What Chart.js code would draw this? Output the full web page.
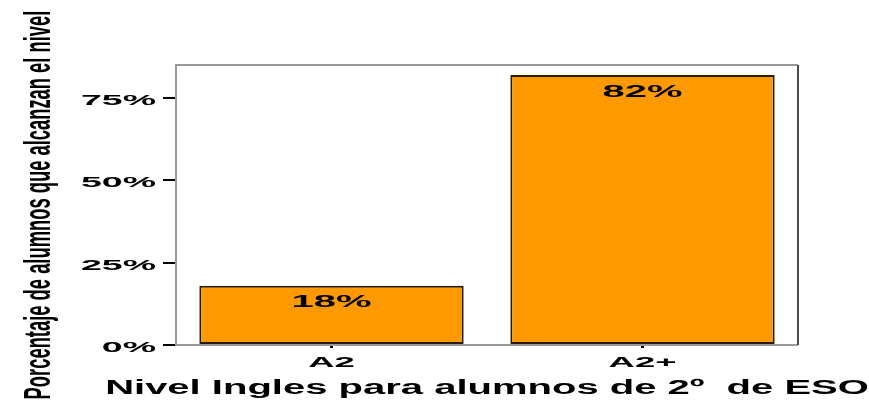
<!DOCTYPE html>
<html>
<head>
<meta charset="utf-8">
<script src="https://cdn.jsdelivr.net/npm/chart.js@4"></script>
<style>
  html, body { margin: 0; padding: 0; background: #fff; }
  canvas { display: block; }
</style>
</head>
<body>
<canvas id="myChart" width="869" height="401"></canvas>
<script>
// datos
const categories = ["A2", "A2+"];
const percentages = [18, 82];
const yTicks = [0, 25, 50, 75];
const xTitle = "Nivel Ingles para alumnos de 2º  de ESO";
const yTitle = "Porcentaje de alumnos que alcanzan el nivel";

// el original tiene letras estiradas (o comprimidas) en horizontal, por tamaño de fuente
const stretch = { 14: 2.6, 15: 2.5, 17: 2.35, 20: 2.0, 36: 0.51 };

const canvas = document.getElementById("myChart");
const ctx = canvas.getContext("2d");

function stretchFor(c) {
    const m = /(\d+(?:\.\d+)?)px/.exec(c.font);
    return m ? stretch[Math.round(+m[1])] : undefined;
}
const origFill = ctx.fillText;
const origMeasure = ctx.measureText;
ctx.fillText = function (text, x, y) {
    const s = stretchFor(this);
    if (!s) return origFill.call(this, text, x, y);
    this.save();
    this.translate(x, y);
    this.scale(s, 1);
    origFill.call(this, text, 0, 0);
    this.restore();
};
ctx.measureText = function (text) {
    const m = origMeasure.call(this, text);
    const s = stretchFor(this);
    return s ? { width: m.width * s } : m;
};

// marco del area del grafico
const framePlugin = {
    id: "frame",
    beforeDatasetsDraw(chart) {
        const c = chart.ctx, a = chart.chartArea;
        c.save();
        c.lineWidth = 2;
        c.strokeStyle = "#9a9a9a";
        c.beginPath();
        c.moveTo(a.right, a.top);
        c.lineTo(a.left, a.top);
        c.lineTo(a.left, a.bottom);
        c.lineTo(a.right, a.bottom);
        c.stroke();
        c.strokeStyle = "#4a4a4a";
        c.beginPath();
        c.moveTo(a.right, a.top);
        c.lineTo(a.right, a.bottom);
        c.stroke();
        c.restore();
    }
};

// etiquetas dentro de las barras
const labelPlugin = {
    id: "barLabels",
    afterDatasetsDraw(chart) {
        const c = chart.ctx;
        c.save();
        c.font = "bold 17px 'Liberation Sans'";
        c.fillStyle = "#000";
        c.textAlign = "center";
        c.textBaseline = "middle";
        chart.getDatasetMeta(0).data.forEach((bar, i) => {
            c.fillText(percentages[i] + "%", bar.x, bar.y + 17);
        });
        c.restore();
    }
};

const chart = new Chart(ctx, {
    type: "bar",
    data: {
        labels: categories,
        datasets: [{
            data: percentages,
            backgroundColor: "#ff9900",
            borderColor: "#2a1c00",
            borderWidth: 2,
            borderSkipped: false,
            categoryPercentage: 1,
            barPercentage: 0.85
        }]
    },
    options: {
        responsive: false,
        animation: false,
        layout: { padding: { top: 65, right: 71, bottom: 0, left: 0 } },
        plugins: {
            legend: { display: false },
            tooltip: { enabled: false }
        },
        scales: {
            x: {
                grid: {
                    drawOnChartArea: false,
                    offset: false,
                    tickLength: 3,
                    lineWidth: 3,
                    color: "#000"
                },
                border: { display: false },
                ticks: {
                    color: "#000",
                    padding: 7,
                    font: { family: "'Liberation Sans'", size: 14, weight: "bold" }
                },
                title: {
                    display: true,
                    text: xTitle,
                    color: "#000",
                    padding: { top: 0, bottom: 1 },
                    font: { family: "'Liberation Sans'", size: 20, weight: "bold" }
                },
                afterFit(s) { s.height = 56; }
            },
            y: {
                min: 0,
                max: 85,
                grid: {
                    drawOnChartArea: false,
                    tickLength: 13,
                    lineWidth: 2,
                    color: "#000"
                },
                border: { display: false },
                ticks: {
                    color: "#000",
                    padding: 7,
                    labelOffset: 3,
                    callback: v => v + "%",
                    font: { family: "'Liberation Sans'", size: 15, weight: "bold" }
                },
                afterBuildTicks(s) { s.ticks = yTicks.map(v => ({ value: v })); },
                title: {
                    display: true,
                    text: yTitle,
                    color: "#000",
                    padding: { top: 18, bottom: 0 },
                    font: { family: "'Liberation Sans'", size: 36, weight: "bold" }
                },
                afterFit(s) { s.width = 176; }
            }
        }
    },
    plugins: [framePlugin, labelPlugin]
});
</script>
</body>
</html>
